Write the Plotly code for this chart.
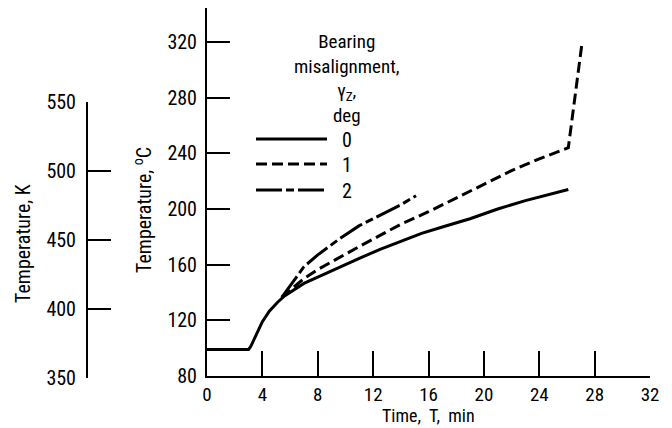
import plotly.graph_objects as go

# ---- data ----
time_0 = [0, 3.0, 3.15, 3.35, 3.6, 4.0, 4.5, 5.1, 5.6, 6.3, 7.0, 8.0, 9.5, 11.0, 12.5, 14.0, 15.5, 17.0, 19.0, 21.0, 23.0, 26.1]
temp_0 = [99, 99, 101, 105.5, 111, 119, 126.5, 133, 137.5, 142, 146.5, 151, 158, 164.5, 171, 177, 182.5, 187, 193, 200, 206, 214]

time_1 = [5.4, 6.3, 7.0, 8.0, 9.5, 11.0, 12.5, 14.0, 16.0, 18.0, 20.0, 22.0, 24.0, 26.1, 27.1]
temp_1 = [136.5, 144, 150, 156.5, 165, 173, 181, 189, 198, 208, 217.5, 227.5, 236, 244, 320]

time_2 = [5.4, 6.3, 7.0, 8.0, 9.5, 11.0, 12.5, 14.0, 15.1]
temp_2 = [136.5, 149, 158.5, 167, 178, 188, 195.5, 203, 209.5]

labels = ["0", "1", "2"]
x_ticks = [0, 4, 8, 12, 16, 20, 24, 28, 32]
c_ticks = [80, 120, 160, 200, 240, 280, 320]
k_ticks = [350, 400, 450, 500, 550]

W, H = 672, 428
FONT = "Roboto Condensed, Liberation Sans Narrow, Liberation Sans, Arial, sans-serif"
FS = 20
dashes = ["solid", "11px,5px", "26px,4px,8px,4px"]


def px(x):
    return x / W


def py(y):
    return 1 - y / H


fig = go.Figure()
for t, v, d in zip([time_0, time_1, time_2], [temp_0, temp_1, temp_2], dashes):
    fig.add_trace(go.Scatter(x=t, y=v, mode="lines",
                             line=dict(color="black", width=3, dash=d),
                             showlegend=False, hoverinfo="skip"))
# carrier for the kelvin axis
fig.add_trace(go.Scatter(x=[None], y=[None], yaxis="y2", mode="lines",
                         showlegend=False, hoverinfo="skip"))

axis_common = dict(showgrid=False, zeroline=False, showline=True, linecolor="black",
                   linewidth=2, ticks="inside", tickcolor="black", tickwidth=2,
                   automargin=False,
                   tickfont=dict(family=FONT, size=FS, color="black"))

fig.update_layout(
    template="none",
    width=W, height=H,
    margin=dict(l=0, r=0, t=0, b=0, pad=0, autoexpand=False),
    paper_bgcolor="white", plot_bgcolor="rgba(0,0,0,0)",
    showlegend=False,
    font=dict(family=FONT, size=FS, color="black"),
    xaxis=dict(axis_common, range=[0, 32], tickvals=x_ticks, ticklen=25,
               domain=[px(207), px(650)], anchor="y", ticklabelstandoff=0,
               tickfont=dict(family=FONT, size=19, color="black")),
    yaxis=dict(axis_common, range=[80, 80 + 368 / 1.392], tickvals=c_ticks, ticklen=23,
               domain=[py(376), py(8)], anchor="x", ticklabelstandoff=4),
    yaxis2=dict(axis_common, range=[350, 550], tickvals=k_ticks, ticklen=23,
                domain=[py(378), py(102)], anchor="free", position=px(87),
                side="left", ticklabelstandoff=6),
)

ann = []
# axis titles
ann.append(dict(text="Time,\u00a0 T,\u00a0 min", x=px(428), y=0, yanchor="bottom",
                font_size=18))
ann.append(dict(text="Temperature, <sup>o</sup>C", x=px(143), y=py(210), textangle=-90))
ann.append(dict(text="Temperature, K", x=px(23), y=py(244), textangle=-90))
# legend title
ann.append(dict(text="Bearing<br>misalignment,<br>γ<sub>Z</sub>,<br>deg",
                x=px(347), y=py(28), yanchor="top", align="center", font_size=19))
leg_y = [139, 164, 190]
for lab, yy in zip(labels, leg_y):
    ann.append(dict(text=lab, x=px(347), y=py(yy + 1)))
for a in ann:
    fs = a.pop("font_size", FS)
    a.setdefault("yanchor", "middle")
    a.update(xref="paper", yref="paper", showarrow=False, xanchor="center",
             font=dict(family=FONT, size=fs, color="black"))
fig.update_layout(annotations=ann)

shapes = []
for d, yy in zip(dashes, leg_y):
    shapes.append(dict(type="line", xref="paper", yref="paper",
                       x0=px(256), x1=px(327), y0=py(yy), y1=py(yy),
                       line=dict(color="black", width=3, dash=d)))
fig.update_layout(shapes=shapes)

fig.write_html("out.html")
